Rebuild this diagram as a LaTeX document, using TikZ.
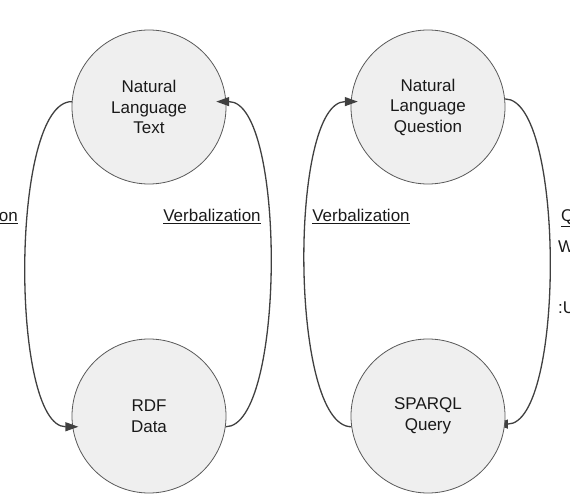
\documentclass[tikz,border=0pt]{standalone}
\usepackage{fontspec}
\setmainfont{Liberation Sans}
\usetikzlibrary{arrows.meta,backgrounds,positioning}
\definecolor{LoopFill}{HTML}{EFEFEF}
\definecolor{LoopLine}{HTML}{595959}
\definecolor{LoopArrow}{HTML}{404040}
\definecolor{LoopText}{HTML}{1A1A1A}

\begin{document}
\begin{tikzpicture}[
    x=1pt, y=-1pt,
    font=\fontsize{17}{20.5}\selectfont, text=LoopText,
    statecircle/.style={circle, draw=LoopLine, fill=LoopFill, line width=0.8pt, minimum size=154pt, inner sep=0pt, align=center},
    loopflow/.style={-{Triangle[length=13pt,width=9pt]}, line width=1.3pt, color=LoopArrow},
    looplabel/.style={inner sep=0pt, anchor=base}
  ]
    \useasboundingbox (0,0) rectangle (570,494);
    \clip (0,0) rectangle (570,494);

    \node[statecircle] (nltext) at (149,107) {Natural\\Language\\Text};
    \node[statecircle] (rdfdata) at (149,416) {RDF\\Data};
    \node[statecircle] (nlquestion) at (428,107) {Natural\\Language\\Question};
    \node[statecircle] (sparql) at (428,416) {SPARQL\\Query};

    \draw[loopflow, shorten >=-6pt] (nltext.176) .. controls +(-62,0) and +(-62,0) .. (rdfdata.188);
    \draw[loopflow, shorten >=-10pt] (rdfdata.352) .. controls +(60,0) and +(60,0) .. (nltext.4);
    \draw[loopflow, shorten >=-7pt] (sparql.188) .. controls +(-62,0) and +(-62,0) .. (nlquestion.176);
    \begin{scope}[on background layer]
      \draw[loopflow, shorten >=-10pt] (nlquestion.6) .. controls +(60,0) and +(60,0) .. (sparql.354);
    \end{scope}

    \node[looplabel, anchor=base east] (genlabel) at (18,222) {\underline{on}};
    \node[looplabel] (verbleft) at (212,222) {\underline{Verbalization}};
    \node[looplabel] (verbright) at (361,222) {\underline{Verbalization}};
    \node[looplabel, anchor=base west] (qalabel) at (561,222) {\underline{Q}};
    \node[looplabel, anchor=base west] (codeone) at (558,253) {W};
    \node[looplabel, anchor=base west] (codetwo) at (558,313) {:U};
  \end{tikzpicture}
\end{document}
